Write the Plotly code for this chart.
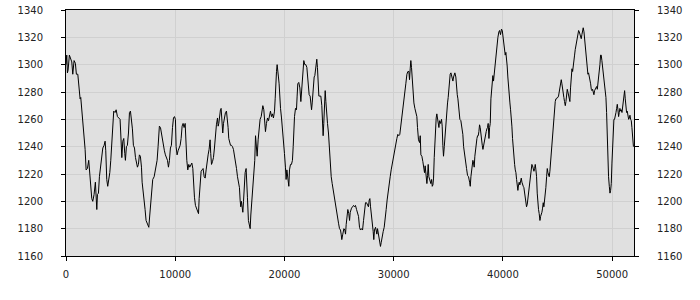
import plotly.graph_objects as go

x_vals = [
0,70,130,190,310,430,530,620,740,860,950,1080,1140,1230,1290,1350,1440,1530,1660,1750,1840,1960,2080,2140,2270,2360,2450,2570,2690,2750,2820,2880,2970,3060,3180,3270,3370,3490,3580,3640,3730,3820,3910,4010,4100,4190,4280,4370,4490,4590,4710,4830,4950,5010,5110,5200,5290,5380,5440,5530,5620,5720,5810,5900,5990,6080,6170,6270,6360,6450,6540,6630,6720,6810,6910,6970,7060,7150,7240,7330,7430,7520,7580,7670,7760,7850,7940,8070,8160,8250,8340,8430,8490,8550,8650,8740,8830,8920,9010,9100,9200,9290,9380,9470,9560,9650,9750,9840,9930,10020,10080,10170,10260,10360,10450,10540,10630,10720,10810,10910,10970,11060,11150,11240,11330,11420,11520,11610,11670,11760,11850,11940,12040,12130,12190,12280,12370,12460,12550,12650,12740,12830,12920,13010,13100,
13190,13250,13320,13410,13500,13590,13680,13770,13870,13930,13990,14050,14140,14200,14290,14350,14420,14510,14600,14690,14780,14840,14900,14960,15060,15150,15240,15330,15420,15510,15610,15700,15790,15880,15940,16000,16060,16120,16190,16250,16310,16400,16490,16550,16610,16700,16800,16860,16920,17010,17100,17190,17280,17350,17440,17500,17590,17680,17770,17870,17960,18020,18110,18170,18260,18350,18450,18540,18630,18720,18810,18900,18990,19090,19150,19210,19270,19330,19390,19450,19510,19570,19640,19730,19820,19910,20000,20090,20150,20220,20280,20340,20400,20460,20550,20640,20730,20800,20860,20920,21010,21100,21160,21220,21310,21410,21500,21560,21620,21710,21770,21860,21960,22050,22110,22200,22260,22350,22410,22480,22540,22600,22660,22720,22780,22870,22960,23020,23090,23150,23240,23330,23420,23480,23540,23600,23670,23730,23790,23850,23940,24030,24090,24180,24280,24370,24460,24520,24610,24670,24760,24860,24950,25040,25130,25190,25250,25340,25440,25530,25590,25650,25740,25800,25890,25960,26020,26080,26140,
26230,26320,26410,26500,26600,26690,26780,26870,26960,27050,27150,27240,27330,27420,27510,27600,27690,27760,27820,27880,27970,28060,28120,28180,28240,28340,28400,28460,28520,28610,28700,28790,28860,28950,29040,29130,29220,29310,29400,29500,29590,29680,29770,29860,29950,30050,30110,30200,30290,30380,30470,30560,30660,30750,30840,30930,31020,31110,31210,31300,31390,31450,31510,31570,31630,31690,31760,31850,31940,32030,32120,32180,32270,32370,32430,32490,32580,32670,32760,32820,32880,32950,33040,33100,33160,33220,33310,33400,33470,33530,33590,33650,33710,33770,33830,33890,33950,34010,34080,34140,34200,34290,34380,34440,34500,34560,34630,34690,34750,34810,34870,34930,34990,35050,35110,35170,35240,35300,35360,35420,35480,35540,35600,35690,35750,35820,35880,35940,36000,36060,36150,36240,36330,36400,36490,36580,36670,36760,36850,36950,37010,37070,37130,37190,37250,37310,37370,37430,37490,37560,37620,37680,37740,37800,37860,37920,37980,38040,38110,38170,38230,38290,38350,38410,38470,38530,38590,38650,38720,38780,38840,38900,38960,
39020,39080,39140,39200,39260,39330,39390,39450,39540,39630,39690,39780,39870,39940,40000,40060,40150,40210,40270,40330,40390,40450,40520,40580,40640,40700,40760,40820,40880,40940,41000,41070,41130,41190,41250,41310,41370,41430,41490,41550,41610,41680,41740,41800,41860,41920,41980,42040,42100,42160,42230,42290,42350,42410,42470,42530,42590,42650,42710,42770,42840,42900,42960,43020,43080,43140,43200,43260,43320,43390,43450,43510,43570,43630,43690,43750,43810,43870,43930,44000,44060,44120,44180,44240,44300,44360,44420,44480,44550,44610,44670,44730,44790,44850,44910,44970,45030,45090,45160,45220,45280,45340,45400,45460,45520,45580,45640,45710,45770,45830,45890,45950,46010,46070,46130,46190,46260,46320,46380,46440,46500,46560,46620,46680,46740,46800,46870,46930,46990,47050,47110,47170,47230,47290,47350,47420,47480,47540,47600,47660,47720,47780,47840,47900,47960,48030,48090,48150,48210,48270,48330,48390,48450,48510,48580,48640,48700,48760,48820,48880,48940,49000,49060,49130,49190,49250,49310,49370,49430,49490,49550,49610,49670,49740,49800,49860,49920,49980,50040,50100,50160,50220,50290,50350,50410,50470,50530,50590,50650,50710,50770,50830,50900,50960,51020,51080,51140,51200,51260,51320,51380,51450,51510,51570,51630,51690,51750,51810,51870,51950,
]

y_vals = [
1300,1307,1294,1296,1307,1304,1302,1293,1303,1301,1293,1293,1289,1282,1275,1276,1267,1257,1250,1238,1223,1224,1230,1223,1211,1202,1200,1205,1214,1201,1194,1205,1206,1218,1226,1235,1239,1241,1244,1237,1216,1211,1215,1221,1230,1244,1254,1266,1265,1267,1262,1261,1260,1250,1232,1244,1246,1235,1230,1240,1241,1250,1265,1266,1261,1253,1241,1239,1232,1228,1225,1227,1234,1233,1225,1214,1205,1200,1194,1186,1184,1183,1181,1190,1197,1207,1216,1218,1222,1225,1230,1240,1251,1255,1254,1249,1244,1240,1237,1234,1232,1230,1225,1230,1239,1241,1254,1261,1262,1260,1240,1234,1237,1239,1241,1246,1255,1257,1254,1257,1240,1230,1223,1227,1225,1227,1228,1224,1212,1203,1197,1195,1192,1191,1202,1216,1222,1223,1224,1218,1217,1223,1230,1234,1238,
1245,1235,1227,1229,1232,1239,1249,1256,1261,1255,1257,1262,1267,1268,1257,1250,1257,1262,1265,1266,1261,1254,1246,1244,1241,1241,1240,1238,1234,1230,1224,1218,1214,1210,1201,1196,1200,1197,1192,1200,1211,1221,1224,1216,1203,1186,1183,1180,1190,1200,1208,1221,1230,1248,1241,1233,1245,1254,1260,1262,1268,1270,1267,1257,1251,1257,1261,1259,1264,1266,1262,1264,1261,1266,1275,1289,1295,1300,1297,1291,1286,1276,1268,1261,1254,1244,1235,1225,1216,1223,1219,1218,1211,1223,1227,1227,1230,1240,1253,1262,1268,1267,1277,1286,1287,1283,1273,1280,1292,1299,1303,1300,1300,1298,1293,1288,1278,1277,1271,1267,1272,1280,1286,1291,1292,1298,1304,1298,1289,1277,1277,1277,1270,1262,1248,1257,1266,1281,1273,1262,1257,1250,1240,1228,1218,1213,1208,1205,1201,1197,1195,1189,1184,1180,1179,1176,1172,1176,1180,1179,1176,1183,1189,1194,1191,1186,1192,1194,1195,
1196,1197,1196,1197,1194,1192,1189,1181,1179,1180,1179,1186,1191,1199,1199,1197,1196,1201,1202,1196,1190,1186,1178,1172,1179,1181,1178,1176,1180,1176,1172,1167,1170,1175,1178,1181,1186,1194,1201,1208,1216,1218,1223,1227,1233,1238,1241,1245,1246,1249,1248,1249,1255,1262,1268,1272,1278,1286,1293,1295,1295,1289,1297,1303,1298,1289,1278,1272,1268,1265,1262,1254,1245,1243,1248,1234,1233,1229,1223,1221,1226,1217,1213,1219,1227,1218,1214,1213,1216,1211,1212,1217,1232,1245,1256,1261,1264,1261,1255,1254,1259,1257,1260,1255,1241,1233,1240,1248,1254,1262,1267,1272,1276,1282,1288,1293,1294,1292,1289,1288,1291,1292,1294,1291,1283,1278,1275,1271,1267,1260,1259,1255,1249,1240,1233,1228,1224,1219,1218,1214,1211,1218,1224,1229,1230,1228,1225,1233,1239,1244,1246,1248,1248,1251,1256,1254,1248,1244,1241,1238,1241,1245,1248,1249,1251,1253,1254,1257,1246,1254,1257,1275,1283,
1291,1292,1288,1293,1302,1307,1313,1314,1320,1324,1325,1322,1326,1325,1321,1316,1314,1307,1309,1305,1299,1291,1281,1277,1272,1267,1262,1255,1246,1238,1230,1227,1223,1221,1216,1213,1208,1212,1214,1212,1216,1217,1214,1211,1211,1210,1206,1202,1198,1196,1198,1202,1205,1207,1212,1218,1223,1227,1226,1223,1222,1224,1227,1223,1218,1206,1197,1194,1191,1186,1189,1190,1192,1195,1199,1196,1200,1202,1210,1218,1224,1221,1219,1218,1222,1229,1235,1245,1253,1260,1266,1270,1273,1275,1275,1276,1276,1277,1281,1283,1286,1289,1286,1281,1277,1276,1273,1270,1273,1278,1282,1280,1278,1276,1273,1283,1291,1297,1295,1298,1302,1307,1311,1314,1318,1320,1324,1325,1324,1322,1320,1319,1322,1326,1327,1324,1318,1314,1308,1302,1297,1293,1294,1292,1289,1286,1282,1281,1282,1280,1278,1281,1282,1283,1284,1282,1286,1289,1295,1300,1307,1307,1303,1298,1292,1291,1288,1283,1276,1265,1244,1227,1218,1211,1206,1208,1213,1228,1240,1254,1260,1260,1262,1265,1268,1271,1267,1262,1265,1268,1266,1267,1265,1270,1272,1277,1281,1275,1267,1265,1266,1262,1260,1261,1263,1260,1259,1254,1245,1240,
]

x_ticks = [0, 10000, 20000, 30000, 40000, 50000]
x_tick_labels = ["0", "10000", "20000", "30000", "40000", "50000"]
y_ticks = [1160, 1180, 1200, 1220, 1240, 1260, 1280, 1300, 1320, 1340]
y_tick_labels = [str(v) for v in y_ticks]

font = dict(family="DejaVu Sans", size=10, color="#222222")
grid = "#d0d0d0"

fig = go.Figure()
fig.add_trace(go.Scatter(x=x_vals, y=y_vals, mode="lines",
                         line=dict(color="black", width=1), showlegend=False,
                         hoverinfo="skip"))
fig.add_trace(go.Scatter(x=[x_vals[0]], y=[y_vals[0]], mode="markers", yaxis="y2",
                         marker=dict(opacity=0), showlegend=False, hoverinfo="skip"))

fig.update_layout(
    width=700, height=300,
    margin=dict(l=66, r=66, t=10, b=44, autoexpand=False),
    paper_bgcolor="white", plot_bgcolor="#e0e0e0",
    showlegend=False,
    xaxis=dict(range=[0, 52000], tickvals=x_ticks, ticktext=x_tick_labels,
               showgrid=True, gridcolor=grid, gridwidth=1, zeroline=False,
               ticks="outside", ticklen=4, tickcolor="black", tickwidth=1,
               showline=True, linecolor="black", linewidth=1, mirror=True,
               tickfont=font, ticklabelstandoff=5, automargin=False),
    yaxis=dict(range=[1160, 1340], tickvals=y_ticks, ticktext=y_tick_labels,
               showgrid=True, gridcolor=grid, gridwidth=1, zeroline=False,
               ticks="outside", ticklen=4, tickcolor="black", tickwidth=1,
               showline=True, linecolor="black", linewidth=1, mirror=True,
               tickfont=font, ticklabelstandoff=16, automargin=False),
    yaxis2=dict(range=[1160, 1340], tickvals=y_ticks, ticktext=y_tick_labels,
                overlaying="y", side="right", showgrid=False, zeroline=False,
                ticks="outside", ticklen=4, tickcolor="black", tickwidth=1,
                showline=False, tickfont=font, ticklabelstandoff=16,
                automargin=False),
)

fig.write_html("out.html")
